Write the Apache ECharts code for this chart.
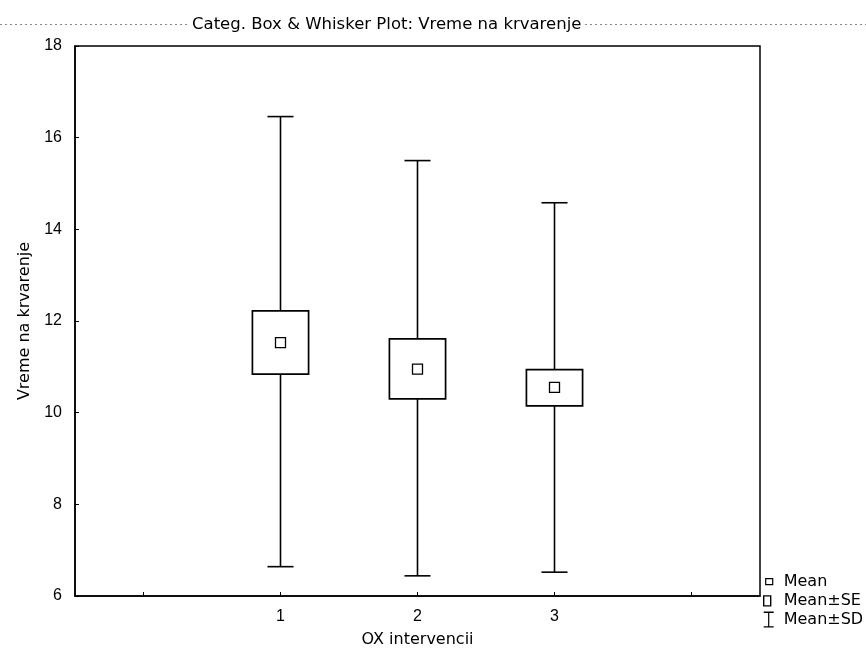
<!DOCTYPE html>
<html><head><meta charset="utf-8">
<script src="https://cdn.jsdelivr.net/npm/echarts@6/dist/echarts.min.js"></script>
<style>html,body{margin:0;padding:0;background:#fff}#c{width:866px;height:655px}</style>
</head><body><div id="c"></div>
<script>
const categories = ['1', '2', '3'];
const means  = [11.53, 10.95, 10.55];
const seLow  = [10.84, 10.30, 10.15];
const seHigh = [12.22, 11.61, 10.94];
const sdLow  = [6.64, 6.44, 6.52];
const sdHigh = [16.46, 15.50, 14.58];
const yTicks = [6, 8, 10, 12, 14, 16, 18];

const axisCats = [''].concat(categories, ['']);
const FONT = '"DejaVu Sans", sans-serif';
const TICKFONT = '"Liberation Sans", Arial, sans-serif';
const black = '#000';

const sdData = categories.map((c, i) => [i + 1, sdLow[i], sdHigh[i]]);
const seData = categories.map((c, i) => [i + 1, seLow[i], seHigh[i]]);
const meanData = categories.map((c, i) => [i + 1, means[i]]);

function renderSD(params, api) {
  const x = api.value(0);
  const top = api.coord([x, api.value(2)]);
  const bot = api.coord([x, api.value(1)]);
  const band = api.size([1, 0])[0];
  const cw = band * 0.095;
  const st = { stroke: black, lineWidth: 1.6 };
  return { type: 'group', children: [
    { type: 'line', shape: { x1: top[0], y1: top[1], x2: bot[0], y2: bot[1] }, style: st },
    { type: 'line', shape: { x1: top[0] - cw, y1: top[1], x2: top[0] + cw, y2: top[1] }, style: st },
    { type: 'line', shape: { x1: bot[0] - cw, y1: bot[1], x2: bot[0] + cw, y2: bot[1] }, style: st }
  ]};
}
function renderSE(params, api) {
  const x = api.value(0);
  const top = api.coord([x, api.value(2)]);
  const bot = api.coord([x, api.value(1)]);
  const band = api.size([1, 0])[0];
  const w = band * 0.41;
  return { type: 'rect', shape: { x: top[0] - w / 2, y: top[1], width: w, height: bot[1] - top[1] },
    style: { fill: '#fff', stroke: black, lineWidth: 1.7 } };
}
function renderMean(params, api) {
  const p = api.coord([api.value(0), api.value(1)]);
  const s = 10;
  return { type: 'rect', shape: { x: p[0] - s / 2, y: p[1] - s / 2, width: s, height: s },
    style: { fill: '#fff', stroke: black, lineWidth: 1.3 } };
}

const chart = echarts.init(document.getElementById('c'));
chart.setOption({
  backgroundColor: '#fff',
  animation: false,
  title: {
    text: 'Categ. Box & Whisker Plot: Vreme na krvarenje',
    left: 192, top: 17, padding: 0,
    textStyle: { fontFamily: FONT, fontSize: 16.5, fontWeight: 'normal', color: black, lineHeight: 16 }
  },
  graphic: [
    { type: 'line', shape: { x1: 0, y1: 24.5, x2: 189, y2: 24.5 }, style: { stroke: '#888', lineWidth: 1, lineDash: [2, 3] } },
    { type: 'line', shape: { x1: 585, y1: 24.5, x2: 866, y2: 24.5 }, style: { stroke: '#888', lineWidth: 1, lineDash: [2, 3] } }
  ],
  legend: {
    orient: 'vertical', left: 762, top: 572, padding: 0,
    itemWidth: 16, itemHeight: 18, itemGap: 0,
    selectedMode: false,
    textStyle: { fontFamily: FONT, fontSize: 16, color: black },
    data: [
      { name: 'Mean', icon: 'path://M0,0 M16,18 M3,6 L10,6 L10,12 L3,12 Z',
        itemStyle: { color: '#fff', borderColor: black, borderWidth: 1.2 } },
      { name: 'Mean±SE', icon: 'path://M0,0 M16,18 M1,4 L8,4 L8,14 L1,14 Z',
        itemStyle: { color: '#fff', borderColor: black, borderWidth: 1.4 } },
      { name: 'Mean±SD', icon: 'path://M0,0 M16,18 M1,1 L11,1 L11,2.3 L1,2.3 Z M5.4,2.3 L6.6,2.3 L6.6,15.7 L5.4,15.7 Z M1,15.7 L11,15.7 L11,17 L1,17 Z',
        itemStyle: { color: black, borderWidth: 0 } }
    ]
  },
  grid: { left: 75, top: 46, right: 106, bottom: 59, show: true, borderColor: black, borderWidth: 1.5, backgroundColor: 'transparent' },
  xAxis: {
    type: 'category', data: axisCats, boundaryGap: true,
    name: 'OX intervencii', nameLocation: 'middle', nameGap: 36,
    nameTextStyle: { fontFamily: FONT, fontSize: 16, color: black },
    axisLine: { show: true, lineStyle: { color: black, width: 1.5 } },
    axisTick: { show: true, inside: true, alignWithLabel: true, interval: 0, length: 4, lineStyle: { color: black } },
    axisLabel: { fontFamily: TICKFONT, fontSize: 16, color: black, margin: 13, interval: 0 },
    splitLine: { show: false }
  },
  yAxis: {
    type: 'value', min: yTicks[0], max: yTicks[yTicks.length - 1], interval: yTicks[1] - yTicks[0],
    name: 'Vreme na krvarenje', nameLocation: 'middle', nameGap: 42,
    nameTextStyle: { fontFamily: FONT, fontSize: 16, color: black },
    axisLine: { show: true, lineStyle: { color: black, width: 1.5 } },
    axisTick: { show: true, inside: true, length: 4, lineStyle: { color: black } },
    axisLabel: { fontFamily: TICKFONT, fontSize: 16, color: black, margin: 13 },
    splitLine: { show: false }
  },
  series: [
    { name: 'Mean±SD', type: 'custom', renderItem: renderSD, data: sdData, encode: { x: 0, y: [1, 2] }, itemStyle: { color: black } },
    { name: 'Mean±SE', type: 'custom', renderItem: renderSE, data: seData, encode: { x: 0, y: [1, 2] }, itemStyle: { color: '#fff' } },
    { name: 'Mean', type: 'custom', renderItem: renderMean, data: meanData, encode: { x: 0, y: 1 }, itemStyle: { color: '#fff' } }
  ]
});
</script>
</body></html>
